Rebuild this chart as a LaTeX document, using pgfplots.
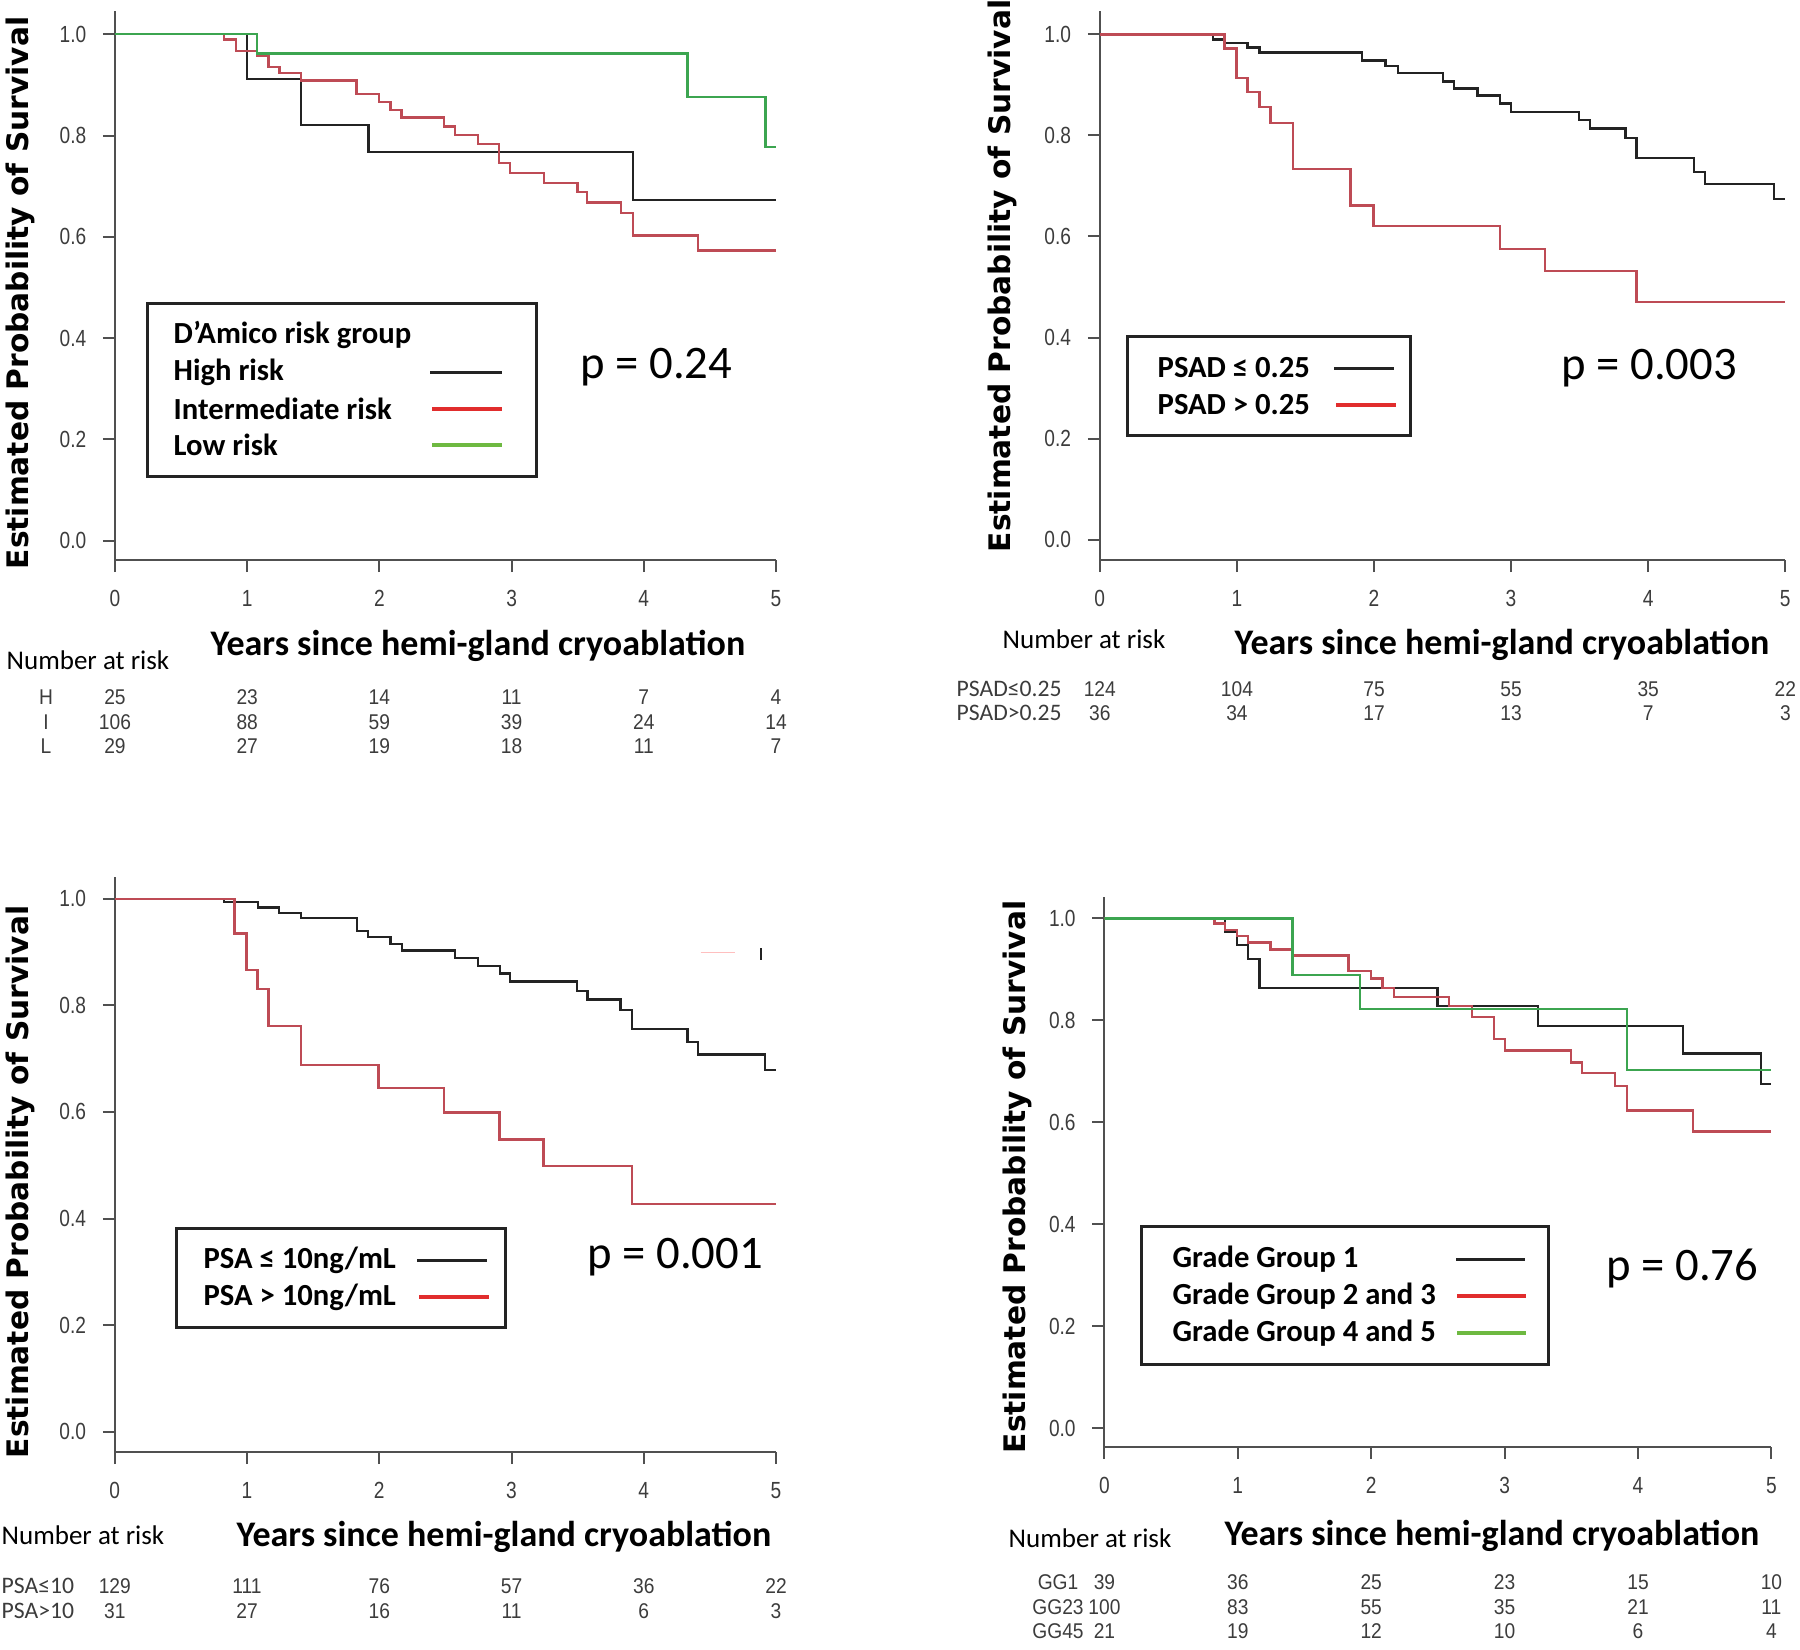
\documentclass[border=0pt]{standalone}
\usepackage{fontspec}
\setmainfont{Carlito}
\newfontfamily\ylabfont{DejaVu Sans}
\newfontfamily\narrow[FakeStretch=0.82]{Liberation Sans}
\newfontfamily\riskfont[FakeStretch=0.9]{Liberation Sans}
\usepackage{pgfplots}
\pgfplotsset{compat=1.18}

\definecolor{kmblack}{RGB}{35,35,35}
\definecolor{kmred}{RGB}{190,75,85}
\definecolor{kmgreen}{RGB}{60,165,80}
\definecolor{legred}{RGB}{225,45,45}
\definecolor{leggreen}{RGB}{110,185,65}
\definecolor{axgray}{RGB}{80,80,80}
\definecolor{ticktext}{RGB}{60,60,60}

\pgfplotsset{km/.style={
  scale only axis, xmin=0, xmax=5,
  axis lines*=left,
  axis line style={draw=axgray, line width=0.6pt},
  xtick={0,1,2,3,4,5}, ytick={0,0.2,0.4,0.6,0.8,1},
  tick align=outside, major tick length=3.6pt,
  tick style={draw=axgray, line width=0.6pt},
  /pgf/number format/assume math mode=true,
  tick label style={font=\narrow\fontsize{7}{8}\selectfont, text=ticktext, /pgf/number format/assume math mode=true},
  yticklabel style={/pgf/number format/fixed, /pgf/number format/fixed zerofill, /pgf/number format/precision=1, xshift=-1.5pt},
  xticklabel style={yshift=-2pt},
  every axis plot/.append style={const plot, no marks, line width=0.7pt},
}}

\newcommand{\risk}{\riskfont\fontsize{6.4}{8}\selectfont\color{ticktext}}
\newcommand{\nar}{\fontsize{8.1}{10}\selectfont}
\newcommand{\leg}{\fontsize{9.2}{11}\selectfont\bfseries}
\newcommand{\pval}{\fontsize{14}{16}\selectfont}
\newcommand{\xlab}{\fontsize{10.8}{12}\selectfont\bfseries}
\newcommand{\ylab}{\ylabfont\fontsize{8.9}{10}\selectfont\bfseries}
\newcommand{\rowlab}{\fontsize{7.1}{8}\selectfont\color{ticktext}}

\begin{document}
\begin{tikzpicture}
\useasboundingbox (0,0) rectangle (540pt,-494.7pt);

% ---------------- Panel 1 ----------------
\begin{axis}[km, at={(34.5pt,-168pt)}, anchor=south west,
  width=198.3pt, height=164.55pt, ymin=-0.038, ymax=1.045]
\addplot[kmblack] coordinates {(0,1) (1.0,0.912) (1.407,0.821) (1.918,0.767) (3.917,0.673) (5,0.673)};
\addplot[kmred] coordinates {(0,1) (0.822,0.990) (0.913,0.967) (1.076,0.958) (1.160,0.935) (1.245,0.923) (1.407,0.909) (1.827,0.882) (1.996,0.866) (2.084,0.851) (2.168,0.836) (2.490,0.818) (2.571,0.801) (2.747,0.784) (2.906,0.746) (2.987,0.726) (3.244,0.707) (3.498,0.688) (3.572,0.668) (3.826,0.647) (3.917,0.603) (4.411,0.573) (5,0.573)};
\addplot[kmgreen] coordinates {(0,1) (1.076,0.962) (4.33,0.876) (4.92,0.778) (5,0.778)};
\end{axis}

% ---------------- Panel 2 ----------------
\begin{axis}[km, at={(329.94pt,-168pt)}, anchor=south west,
  width=205.62pt, height=164.55pt, ymin=-0.0404, ymax=1.0453]
\addplot[kmblack] coordinates {(0,1) (0.827,0.990) (0.909,0.983) (1.077,0.974) (1.166,0.964) (1.914,0.948) (2.085,0.937) (2.174,0.923) (2.503,0.907) (2.582,0.893) (2.754,0.879) (2.918,0.863) (3.001,0.847) (3.498,0.830) (3.577,0.814) (3.834,0.795) (3.916,0.755) (4.335,0.728) (4.414,0.704) (4.918,0.674) (5,0.674)};
\addplot[kmred] coordinates {(0,1) (0.909,0.972) (0.998,0.914) (1.077,0.886) (1.166,0.856) (1.245,0.825) (1.410,0.733) (1.828,0.661) (1.996,0.621) (2.918,0.575) (3.248,0.531) (3.916,0.470) (5,0.470)};
\end{axis}

% ---------------- Panel 3 ----------------
\begin{axis}[km, at={(34.44pt,-435.6pt)}, anchor=south west,
  width=198.36pt, height=172.5pt, ymin=-0.0383, ymax=1.041]
\addplot[kmblack] coordinates {(0,1) (0.828,0.994) (1.081,0.984) (1.243,0.974) (1.409,0.964) (1.831,0.940) (1.916,0.928) (2.084,0.915) (2.172,0.903) (2.574,0.889) (2.747,0.874) (2.912,0.860) (2.990,0.845) (3.493,0.827) (3.574,0.811) (3.824,0.792) (3.912,0.756) (4.331,0.731) (4.409,0.708) (4.919,0.679) (5,0.679)};
\addplot[kmred] coordinates {(0,1) (0.905,0.935) (0.997,0.866) (1.078,0.831) (1.162,0.761) (1.409,0.688) (1.993,0.645) (2.490,0.599) (2.909,0.548) (3.243,0.499) (3.912,0.427) (5,0.427)};
\addplot[red!25, line width=0.5pt, sharp plot] coordinates {(4.43,0.899) (4.69,0.899)};
\addplot[kmblack, line width=0.6pt, sharp plot] coordinates {(4.89,0.907) (4.89,0.886)};
\end{axis}

% ---------------- Panel 4 ----------------
\begin{axis}[km, at={(331.32pt,-433.95pt)}, anchor=south west,
  width=200.1pt, height=164.85pt, ymin=-0.0363, ymax=1.042]
\addplot[kmblack] coordinates {(0,1) (0.904,0.974) (0.996,0.948) (1.077,0.920) (1.162,0.864) (2.498,0.828) (3.249,0.789) (4.337,0.735) (4.922,0.675) (5,0.675)};
\addplot[kmred] coordinates {(0,1) (0.826,0.990) (0.904,0.977) (0.996,0.965) (1.077,0.953) (1.244,0.939) (1.411,0.927) (1.829,0.897) (1.999,0.882) (2.084,0.864) (2.169,0.846) (2.583,0.828) (2.757,0.807) (2.920,0.763) (3.001,0.741) (3.498,0.717) (3.580,0.696) (3.827,0.671) (3.919,0.623) (4.412,0.582) (5,0.582)};
\addplot[kmgreen] coordinates {(0,1) (1.411,0.889) (1.914,0.822) (3.919,0.703) (5,0.703)};
\end{axis}

\begin{scope}[x=0.3pt,y=-0.3pt]
\tikzset{lt/.style={anchor=west, inner sep=0pt}}
% ===== Panel 1 texts =====
\node[rotate=90] at (20,293) {\ylab Estimated Probability of Survival};
\draw[line width=0.9pt, kmblack] (147,303) rectangle (536,476);
\node[lt] at (173,335) {\leg D’Amico risk group};
\node[lt] at (173,372) {\leg High risk};
\node[lt] at (173,409) {\leg Intermediate risk};
\node[lt] at (173,445) {\leg Low risk};
\draw[line width=0.9pt, kmblack] (430,372) -- (502,372);
\draw[line width=1pt, legred] (432,409) -- (502,409);
\draw[line width=1pt, leggreen] (432,445) -- (502,445);
\node[lt] at (580,367) {\pval p = 0.24};
\node at (478,646) {\xlab Years since hemi-gland cryoablation};
\node[lt] at (6,660) {\nar Number at risk};
\foreach \lab/\yy in {H/697, I/722, L/746} \node at (46,\yy) {\risk \lab};
\foreach \v [count=\i from 0] in {25,23,14,11,7,4} \node at (115+\i*132.2,697) {\risk \v};
\foreach \v [count=\i from 0] in {106,88,59,39,24,14} \node at (115+\i*132.2,722) {\risk \v};
\foreach \v [count=\i from 0] in {29,27,19,18,11,7} \node at (115+\i*132.2,746) {\risk \v};

% ===== Panel 2 texts =====
\node[rotate=90] at (1002,276) {\ylab Estimated Probability of Survival};
\draw[line width=0.9pt, kmblack] (1127,336) rectangle (1410,435);
\node[lt] at (1157,368) {\leg PSAD ≤ 0.25};
\node[lt] at (1157,405) {\leg PSAD > 0.25};
\draw[line width=0.9pt, kmblack] (1334,368) -- (1394,368);
\draw[line width=1pt, legred] (1336,405) -- (1396,405);
\node[lt] at (1561,368) {\pval p = 0.003};
\node at (1502,645) {\xlab Years since hemi-gland cryoablation};
\node[lt] at (1002,639) {\nar Number at risk};
\node[lt] at (956,689) {\rowlab PSAD≤0.25};
\node[lt] at (956,713) {\rowlab PSAD>0.25};
\foreach \v [count=\i from 0] in {124,104,75,55,35,22} \node at (1099.8+\i*137.1,689) {\risk \v};
\foreach \v [count=\i from 0] in {36,34,17,13,7,3} \node at (1099.8+\i*137.1,713) {\risk \v};

% ===== Panel 3 texts =====
\node[rotate=90] at (20,1182) {\ylab Estimated Probability of Survival};
\draw[line width=0.9pt, kmblack] (176,1228) rectangle (505,1327);
\node[lt] at (203,1260) {\leg PSA ≤ 10ng/mL};
\node[lt] at (203,1297) {\leg PSA > 10ng/mL};
\draw[line width=0.9pt, kmblack] (417,1260) -- (487,1260);
\draw[line width=1pt, legred] (419,1297) -- (489,1297);
\node[lt] at (587,1257) {\pval p = 0.001};
\node at (504,1537) {\xlab Years since hemi-gland cryoablation};
\node[lt] at (1,1535) {\nar Number at risk};
\node[lt] at (1,1586) {\rowlab PSA≤10};
\node[lt] at (1,1611) {\rowlab PSA>10};
\foreach \v [count=\i from 0] in {129,111,76,57,36,22} \node at (114.8+\i*132.24,1586) {\risk \v};
\foreach \v [count=\i from 0] in {31,27,16,11,6,3} \node at (114.8+\i*132.24,1611) {\risk \v};

% ===== Panel 4 texts =====
\node[rotate=90] at (1017,1177) {\ylab Estimated Probability of Survival};
\draw[line width=0.9pt, kmblack] (1141,1226) rectangle (1548,1364);
\node[lt] at (1172,1259) {\leg Grade Group 1};
\node[lt] at (1172,1296) {\leg Grade Group 2 and 3};
\node[lt] at (1172,1333) {\leg Grade Group 4 and 5};
\draw[line width=0.9pt, kmblack] (1456,1259) -- (1525,1259);
\draw[line width=1pt, legred] (1457,1296) -- (1526,1296);
\draw[line width=1pt, leggreen] (1457,1333) -- (1526,1333);
\node[lt] at (1606,1268) {\pval p = 0.76};
\node at (1492,1536) {\xlab Years since hemi-gland cryoablation};
\node[lt] at (1008,1538) {\nar Number at risk};
\foreach \lab/\yy in {GG1/1582, GG23/1607, GG45/1631} \node at (1058,\yy) {\risk \lab};
\foreach \v [count=\i from 0] in {39,36,25,23,15,10} \node at (1104.4+\i*133.4,1582) {\risk \v};
\foreach \v [count=\i from 0] in {100,83,55,35,21,11} \node at (1104.4+\i*133.4,1607) {\risk \v};
\foreach \v [count=\i from 0] in {21,19,12,10,6,4} \node at (1104.4+\i*133.4,1631) {\risk \v};
\end{scope}
\end{tikzpicture}
\end{document}
